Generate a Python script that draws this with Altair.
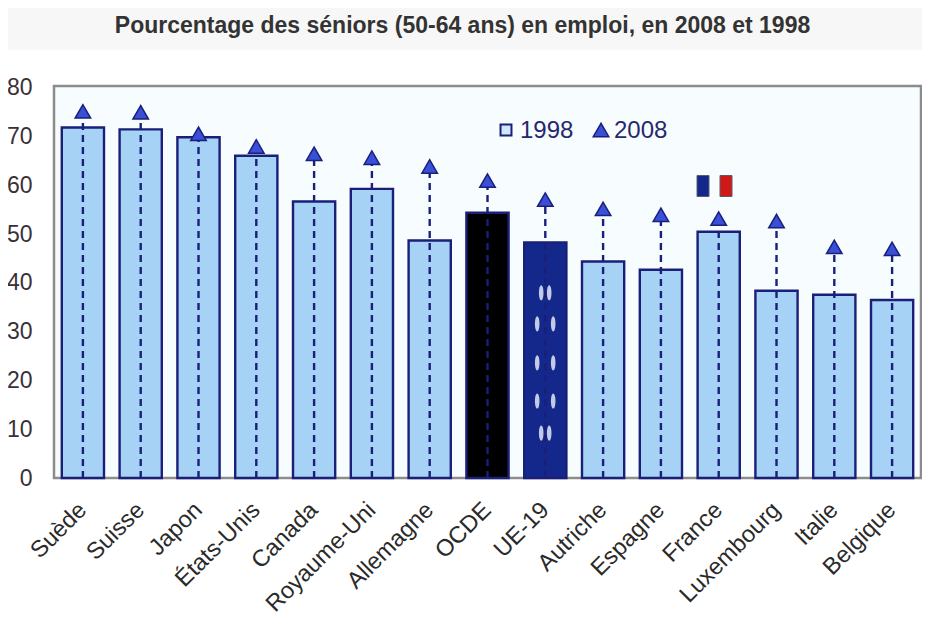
import altair as alt
import pandas as pd

categories = ["Suède", "Suisse", "Japon", "États-Unis", "Canada", "Royaume-Uni", "Allemagne", "OCDE",
              "UE-19", "Autriche", "Espagne", "France", "Luxembourg", "Italie", "Belgique"]
v1998 = [71.9, 71.5, 69.9, 66.1, 56.7, 59.3, 48.7, 54.4, 48.3, 44.4, 42.7, 50.5, 38.4, 37.6, 36.5]
v2008 = [75.2, 75.0, 70.6, 68.0, 66.5, 65.7, 63.9, 61.0, 57.1, 55.2, 54.0, 53.2, 52.7, 47.4, 47.0]
fills = ["#A6D2F5"] * 15
fills[7] = "#000000"
fills[8] = "#14288C"
star_v = [38.0, 38.0, 31.6, 31.6, 23.6, 23.6, 15.8, 15.8, 9.2, 9.2]
star_dx = [17, 25, 13, 29, 13, 29, 13, 29, 17, 25]

NAVY = "#1A1F7A"
df = pd.DataFrame({"c": categories, "a": v1998, "b": v2008, "f": fills, "zero": [0] * 15})
x = alt.X("c:N", sort=categories, title=None,
          scale=alt.Scale(paddingInner=0.27, paddingOuter=0.135),
          axis=alt.Axis(labelAngle=-45, labelAlign="right", labelBaseline="middle", labelFont="Liberation Sans",
                        labelFontSize=23.5, labelColor="#2a2a2a", ticks=False, domain=False, labelPadding=28,
                        labelOverlap=False))
y = alt.Y("a:Q", title=None, scale=alt.Scale(domain=[0, 80.4], nice=False),
          axis=alt.Axis(values=list(range(0, 90, 10)), grid=False, ticks=False, domain=False,
                        labelFont="Liberation Sans", labelFontSize=23, labelColor="#3a3038", labelPadding=22))

base = alt.Chart(df)
bars = base.mark_bar(stroke=NAVY, strokeWidth=2.4).encode(
    x=x, y=y, fill=alt.Fill("f:N", scale=None))
rules = base.mark_rule(color=NAVY, strokeWidth=2.4, strokeDash=[7, 5]).encode(
    x=alt.X("c:N", sort=categories), y=alt.Y("zero:Q"), y2="b:Q")
tris = base.mark_point(shape="triangle-up", filled=True, fill="#3A4FD8", stroke=NAVY, strokeWidth=1.5,
                       size=240, opacity=1).encode(x=alt.X("c:N", sort=categories), y=alt.Y("b:Q"))
stars = alt.Chart(pd.DataFrame({"c": ["UE-19"] * len(star_v), "v": star_v, "dx": star_dx})).mark_point(
    shape="M0,-1 C0.4,-1 0.4,1 0,1 C-0.4,1 -0.4,-1 0,-1 Z", filled=True, color="#D5DCF0", size=230,
    opacity=0.9).encode(
    x=alt.X("c:N", sort=categories), xOffset=alt.XOffset("dx:Q", scale=None), y=alt.Y("v:Q"))

leg_text = pd.DataFrame({"t": ["1998", "2008"], "px": [466, 560]})
legend_txt = alt.Chart(leg_text).mark_text(font="Liberation Sans", fontSize=24, align="left", baseline="middle",
                                           color="#26286E").encode(
    x=alt.value(0), xOffset=alt.XOffset("px:Q", scale=None), y=alt.value(45), text="t:N")
legend_sq = alt.Chart(pd.DataFrame({"k": ["1998"]})).mark_point(shape="square", filled=True, fill="#CFE8FA",
                                                                stroke=NAVY, strokeWidth=2, size=120, opacity=1).encode(
    x=alt.value(452), y=alt.value(44))
legend_tri = alt.Chart(pd.DataFrame({"k": ["2008"]})).mark_point(shape="triangle-up", filled=True, fill="#3A4FD8",
                                                                 stroke=NAVY, strokeWidth=1.5, size=240, opacity=1).encode(
    x=alt.value(547), y=alt.value(44))
flag = alt.Chart(pd.DataFrame({"col": ["#14288C", "#D01818"], "x0": [649, 672]})).mark_bar(
    width=12, height=21, stroke="#5a5a70", strokeWidth=1).encode(
    x=alt.value(0), xOffset=alt.XOffset("x0:Q", scale=None), y=alt.value(100), fill=alt.Fill("col:N", scale=None))

band1 = alt.Chart(pd.DataFrame({"k": [1]})).mark_rect(color="#F7F7F7", clip=False).encode(
    x=alt.value(-46), x2=alt.value(868), y=alt.value(-78), y2=alt.value(-36))

chart = alt.layer(band1, bars, rules, tris, stars, legend_sq, legend_tri, legend_txt, flag).properties(
    width=867, height=392,
    autosize=alt.AutoSizeParams(type="none"),
    padding={"left": 46, "top": 78, "right": 1, "bottom": 140},
    title=alt.TitleParams("Pourcentage des séniors (50-64 ans) en emploi, en 2008 et 1998",
                          font="Liberation Sans", fontSize=23, fontWeight="bold", color="#333333",
                          anchor="middle", frame="group", dx=-25, baseline="middle", offset=-41),
).configure_view(fill="#F7FCFF", stroke="#8C8C8C", strokeWidth=2.5)

chart.save("out.html", embed_options={"renderer": "svg", "actions": False})
